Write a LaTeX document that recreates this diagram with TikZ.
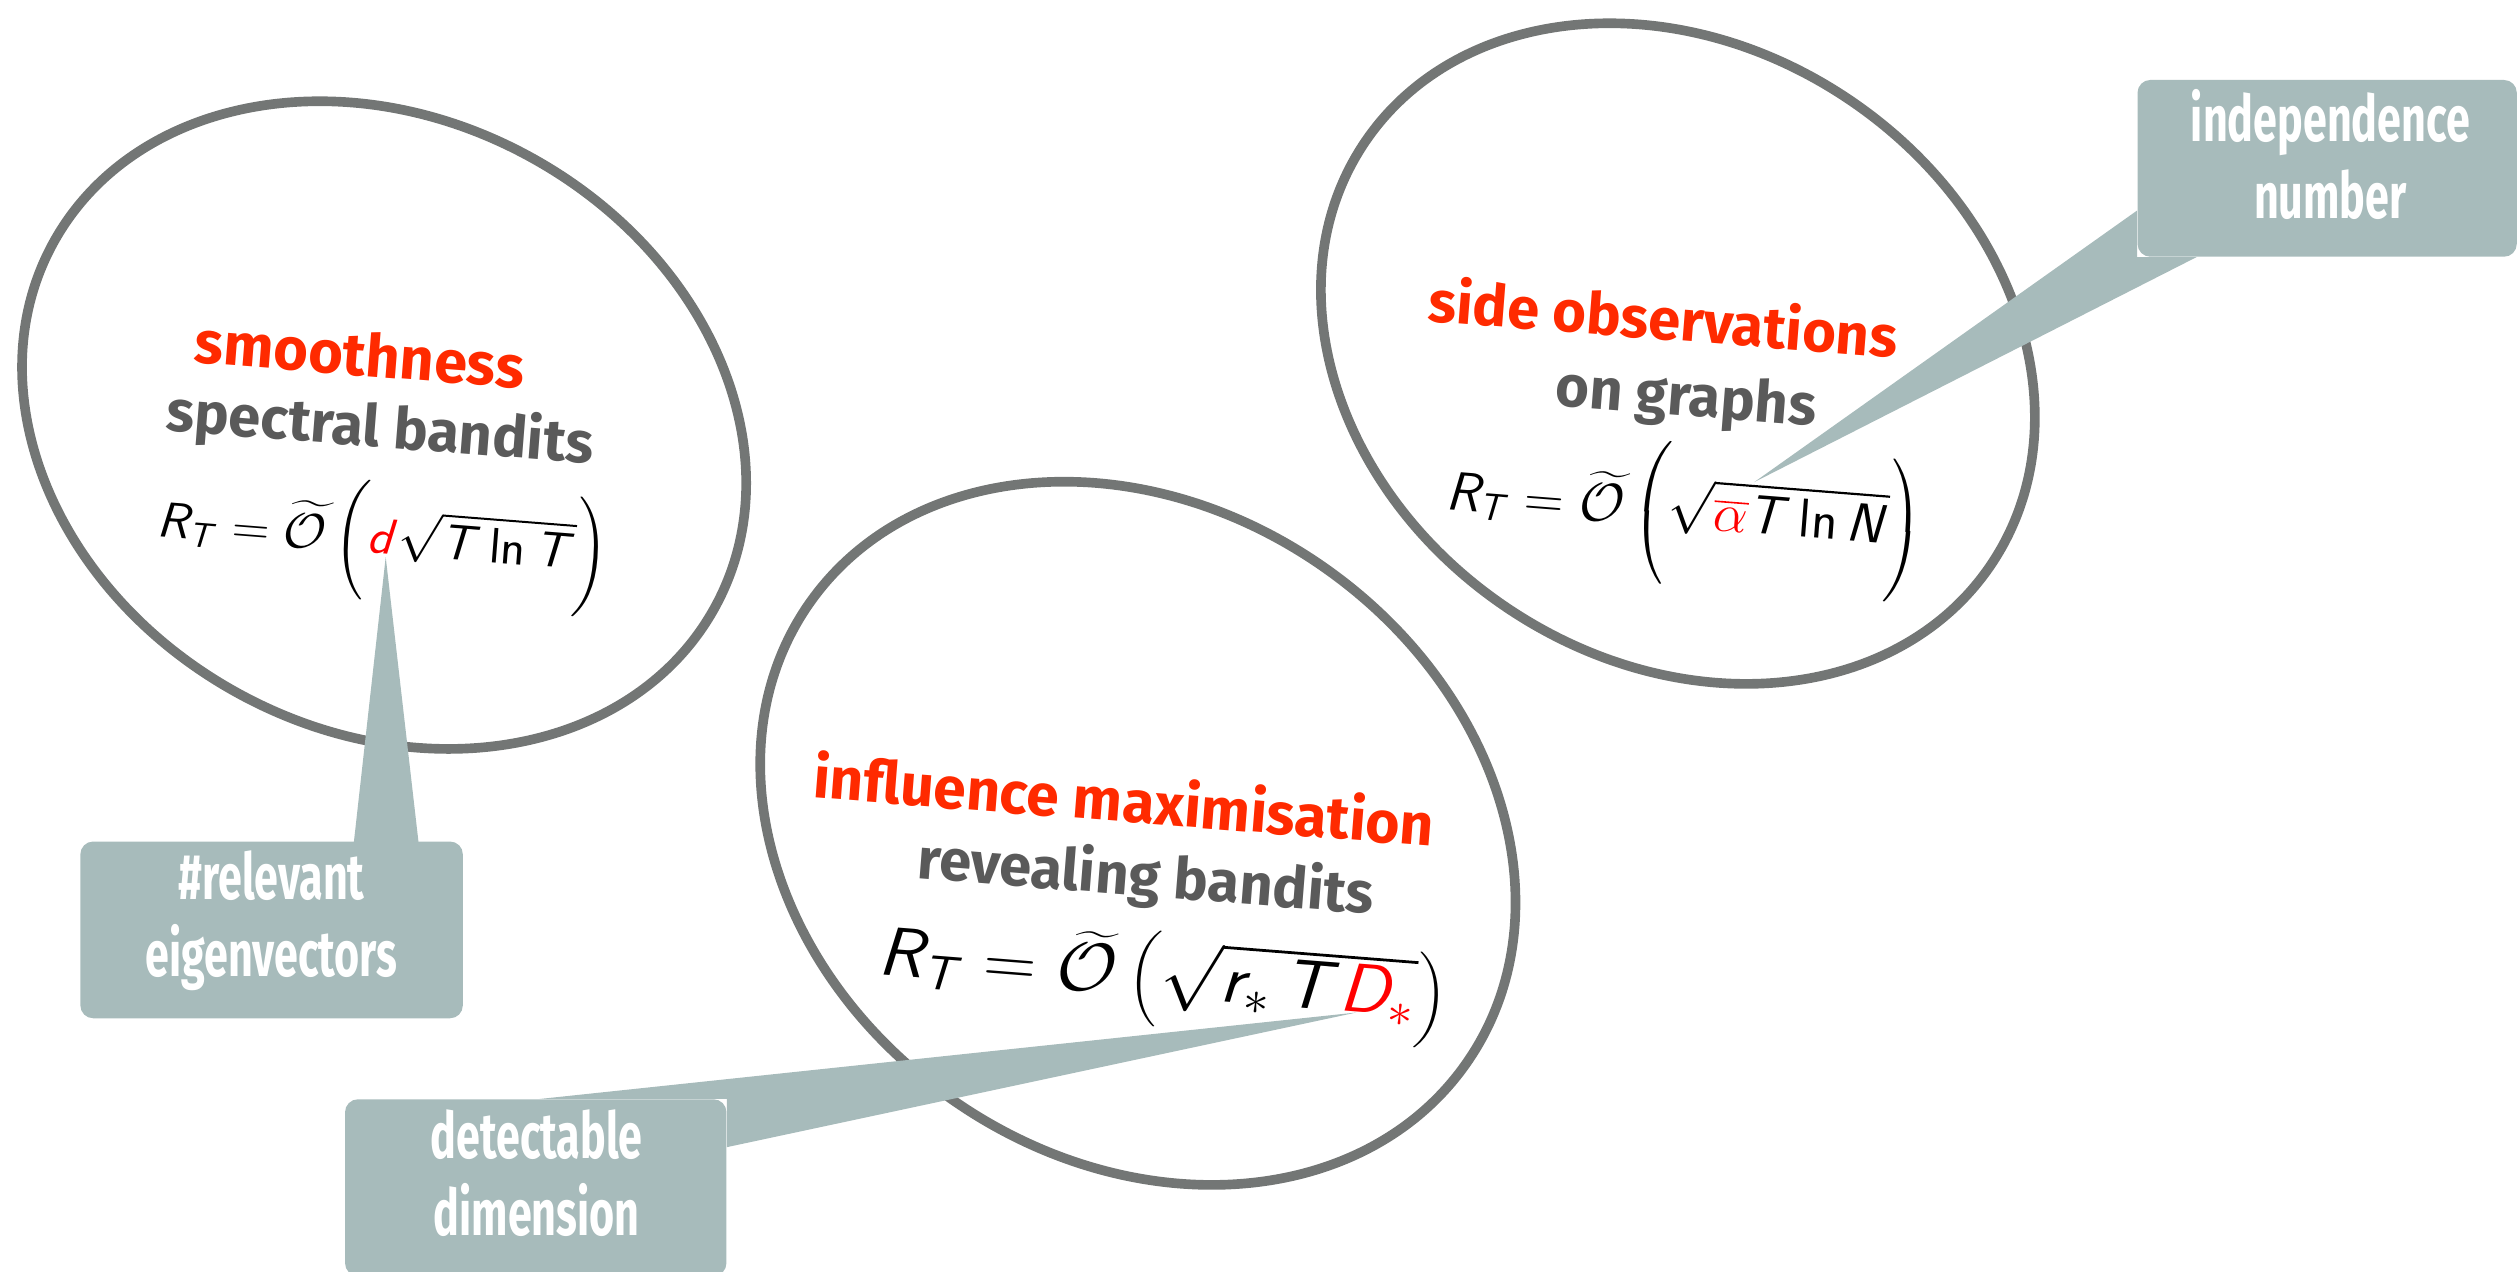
\RequirePackage{fix-cm}
\documentclass[tikz,border=0pt]{standalone}
\usepackage{exscale}
\usepackage{graphicx}
\usepackage[no-math]{fontspec}
\setmainfont{Fira Sans}
\newfontfamily\condfont[FakeStretch=0.67]{Fira Sans}
\DeclareMathAlphabet{\mathsfit}{OT1}{cmss}{m}{sl}
\DeclareMathAlphabet{\mathsfup}{OT1}{cmss}{m}{n}
\usetikzlibrary{calc}
\definecolor{ringgray}{RGB}{115,118,117}
\definecolor{titlered}{RGB}{255,42,0}
\definecolor{subgray}{RGB}{90,90,90}
\definecolor{boxteal}{RGB}{167,187,187}
\definecolor{mathred}{RGB}{255,0,0}
\newcommand{\lnop}{\mathop{\mathsfup{ln}}\nolimits}
\begin{document}
\begin{tikzpicture}[x=1pt,y=1pt,
  ring/.style={draw=ringgray, line width=6pt},
  titletext/.style={text=titlered, inner sep=0pt, rotate=-4.5, font=\bfseries\fontsize{#1}{#1}\selectfont},
  subtext/.style={text=subgray, inner sep=0pt, rotate=-4.5, font=\bfseries\fontsize{#1}{#1}\selectfont},
  formula/.style={text=black, inner sep=0pt, rotate=-4.5, font=\fontsize{#1}{#1}\selectfont},
  callbox/.style={fill=boxteal, rounded corners=8pt, inner sep=0pt},
  calltext/.style={text=white, inner sep=0pt, align=center, font=\condfont\bfseries\fontsize{40}{48}\selectfont},
  wedge/.style={fill=boxteal}
]
\path[use as bounding box] (0,0) rectangle (1568,-791);

% rings
\draw[ring, rotate around={-29:(239,-264.5)}] (239,-264.5) ellipse [x radius=235pt, y radius=190pt];
\draw[ring, rotate around={-34:(1044,-220)}] (1044,-220) ellipse [x radius=235pt, y radius=190.6pt];
\draw[ring, rotate around={-35:(708,-518.5)}] (708,-518.5) ellipse [x radius=249.5pt, y radius=202pt];

% left ring texts
\node[titletext=37] (t1) at (224,-220) {smoothness};
\node[subtext=36] (s1) at (236.5,-267.6) {spectral bandits};
\node[formula=31] (f1) at (238,-337) {\scalebox{1.04}[1]{$\mathsfit{R}_{\mathsfit{T}}=\widetilde{\mathcal{O}}\,\biggl({\color{mathred}\mathsfit{d}}\sqrt{\mathsfit{T}\lnop\mathsfit{T}}\biggr)$}};

% right ring texts
\node[titletext=36] (t2) at (1035,-197) {side observations};
\node[subtext=36] (s2) at (1049,-249) {on graphs};
\node[formula=34] (f2) at (1048,-320) {$\mathsfit{R}_{\mathsfit{T}}=\widetilde{\mathcal{O}}\,\biggl(\sqrt{{\color{mathred}\overline{\alpha}}\mathsfit{T}\lnop\mathsfit{N}}\biggr)$};

% middle ring texts
\node[titletext=36.5] (t3) at (699.5,-497) {influence maximisation};
\node[subtext=36] (s3) at (713,-547) {revealing bandits};
\node[formula=43] (f3) at (723.5,-609.6) {\scalebox{1.06}[1]{$\mathsfit{R}_{\mathsfit{T}}=\widetilde{\mathcal{O}}\,\bigl(\sqrt{\mathsfit{r}_*\,\mathsfit{T}{\color{mathred}\mathsfit{D}_*}}\bigr)$}};

% callout boxes
\node[callbox, minimum width=238pt, minimum height=110pt] (b1) at (169,-578.6) {};
\node[callbox, minimum width=236pt, minimum height=110pt] (b2) at (1448,-104.75) {};
\node[callbox, minimum width=237.3pt, minimum height=110pt] (b3) at (333.35,-739) {};

% wedge tips
\coordinate (tip1) at (240,-346.6);
\coordinate (tip2) at (1091.5,-300);
\coordinate (tip3) at (844,-630);

\fill[wedge] ($(b1.north west)+(170,-4)$) -- (tip1) -- ($(b1.north west)+(211,-4)$) -- cycle;
\fill[wedge] ($(b2.south west)+(0,29)$) -- (tip2) -- ($(b2.south west)+(37,0)$) -- (b2.south west) -- cycle;
\fill[wedge] ($(b3.north west)+(121.3,0)$) -- (tip3) -- ($(b3.north east)+(0,-30)$) -- (b3.north east) -- cycle;

% callout texts
\node[calltext] (c1) at (169,-572.75) {\#relevant\\eigenvectors};
\node[calltext] (c2) at (1450,-96) {independence\\number};
\node[calltext] (c3) at (334,-730) {detectable\\dimension};
\end{tikzpicture}
\end{document}
